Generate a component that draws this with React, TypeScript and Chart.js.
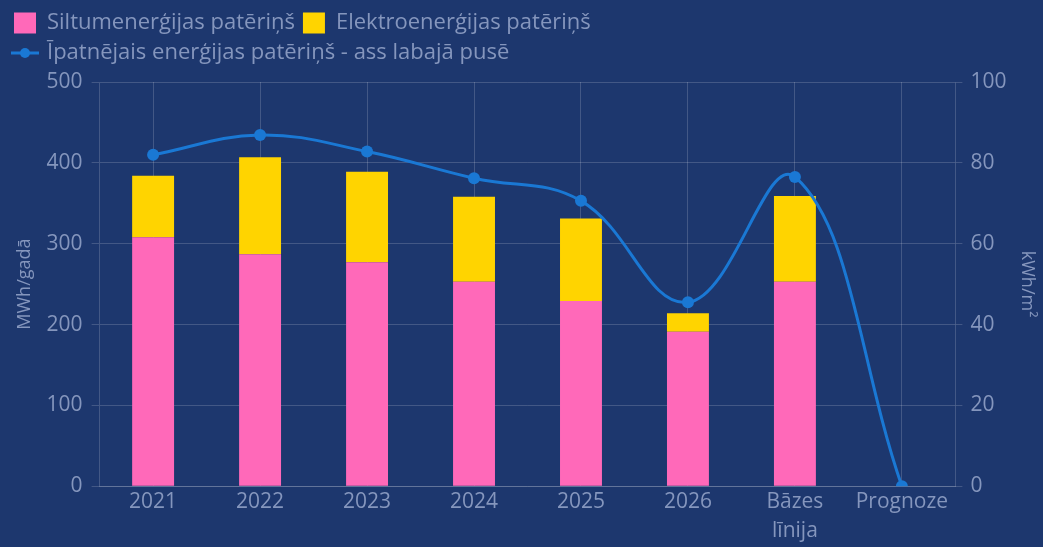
import React, { useEffect, useRef } from "react";
import { Chart, registerables } from "chart.js";

Chart.register(...registerables);

const categories: (string | string[])[] = ["2021", "2022", "2023", "2024", "2025", "2026", ["Bāzes", "līnija"], "Prognoze"];
const heatValues = [308, 287, 277, 253, 229, 191, 253, 0];
const electricityValues = [76, 120, 112, 105, 102, 23, 106, 0];
const specificValues = [82, 86.9, 82.8, 76.2, 70.6, 45.5, 76.5, 0];

const heatLabel = "Siltumenerģijas patēriņš";
const electricityLabel = "Elektroenerģijas patēriņš";
const specificLabel = "Īpatnējais enerģijas patēriņš - ass labajā pusē";
const leftTitle = "MWh/gadā";
const rightTitle = "kWh/m²";

const BG = "#1d376e";
const PINK = "#ff69b9";
const YELLOW = "#ffd400";
const BLUE = "#1a78d4";
const TEXT = "#8596bd";
const GRID = "rgba(255,255,255,0.17)";
const FONT = "'Open Sans', sans-serif";

function makeLineIcon(): HTMLCanvasElement {
  const c = document.createElement("canvas");
  c.width = 28;
  c.height = 12;
  const ctx = c.getContext("2d")!;
  ctx.strokeStyle = BLUE;
  ctx.lineWidth = 3;
  ctx.beginPath();
  ctx.moveTo(0, 6);
  ctx.lineTo(28, 6);
  ctx.stroke();
  ctx.fillStyle = BLUE;
  ctx.beginPath();
  ctx.arc(14, 6, 5, 0, Math.PI * 2);
  ctx.fill();
  return c;
}

const legendMargin = {
  id: "legendMargin",
  beforeInit(chart: any) {
    const legend = chart.legend;
    if (!legend) return;
    const orig = legend.fit;
    legend.fit = function () {
      orig.call(this);
      this.height += 8;
    };
  },
};

export default function App() {
  const ref = useRef<HTMLCanvasElement | null>(null);

  useEffect(() => {
    if (!ref.current) return;
    const icon = makeLineIcon();
    const chart = new Chart(ref.current, {
      type: "bar",
      data: {
        labels: categories,
        datasets: [
          {
            type: "bar",
            label: heatLabel,
            data: heatValues,
            backgroundColor: PINK,
            yAxisID: "y",
            stack: "s",
            order: 1,
            categoryPercentage: 0.8,
            barPercentage: 0.49,
          },
          {
            type: "bar",
            label: electricityLabel,
            data: electricityValues,
            backgroundColor: YELLOW,
            yAxisID: "y",
            stack: "s",
            order: 1,
            categoryPercentage: 0.8,
            barPercentage: 0.49,
          },
          {
            type: "line",
            label: specificLabel,
            data: specificValues,
            borderColor: BLUE,
            backgroundColor: BLUE,
            borderWidth: 3,
            pointRadius: 6,
            pointBackgroundColor: BLUE,
            pointBorderWidth: 0,
            tension: 0.4,
            yAxisID: "y1",
            order: 0,
          } as any,
        ],
      },
      plugins: [legendMargin],
      options: {
        responsive: false,
        animation: false,
        layout: { padding: { left: 6, right: 3, top: 4, bottom: 0 } },
        plugins: {
          tooltip: { enabled: false },
          legend: {
            position: "top",
            align: "start",
            labels: {
              color: TEXT,
              font: { family: FONT, size: 22 },
              usePointStyle: true,
              boxWidth: 22,
              boxHeight: 21,
              pointStyleWidth: 22,
              padding: 8,
              sort: (a: any, b: any) => a.datasetIndex - b.datasetIndex,
              generateLabels: (chart: any) =>
                chart.data.datasets.map((ds: any, i: number) => ({
                  text: ds.label,
                  fillStyle: i === 0 ? PINK : i === 1 ? YELLOW : BLUE,
                  strokeStyle: i === 0 ? PINK : i === 1 ? YELLOW : BLUE,
                  lineWidth: 0,
                  pointStyle: i === 2 ? icon : "rect",
                  fontColor: TEXT,
                  hidden: false,
                  datasetIndex: i,
                })),
            },
          },
        },
        scales: {
          x: {
            stacked: true,
            offset: true,
            grid: { color: GRID, offset: false, drawTicks: false },
            border: { color: GRID },
            ticks: { color: TEXT, font: { family: FONT, size: 21, lineHeight: 1.4 }, padding: 1, maxRotation: 0 },
          },
          y: {
            stacked: true,
            position: "left",
            min: 0,
            max: 500,
            ticks: { stepSize: 100, color: TEXT, font: { family: FONT, size: 21 }, padding: 9 },
            grid: { color: GRID, tickLength: 8 },
            border: { color: GRID },
            title: { display: true, text: leftTitle, color: TEXT, font: { family: FONT, size: 18 }, padding: { top: 8, bottom: 2 } },
          },
          y1: {
            position: "right",
            min: 0,
            max: 100,
            ticks: { stepSize: 20, color: TEXT, font: { family: FONT, size: 21 }, padding: 8 },
            grid: { drawOnChartArea: false, color: GRID, tickLength: 7 },
            border: { color: GRID },
            title: { display: true, text: rightTitle, color: TEXT, font: { family: FONT, size: 18 }, padding: 2 },
          },
        },
      },
    });
    return () => chart.destroy();
  }, []);

  return (
    <div style={{ position: "fixed", left: 0, top: 0, width: 1043, height: 547, background: BG }}>
      <canvas ref={ref} width={1043} height={547} style={{ display: "block" }} />
    </div>
  );
}
